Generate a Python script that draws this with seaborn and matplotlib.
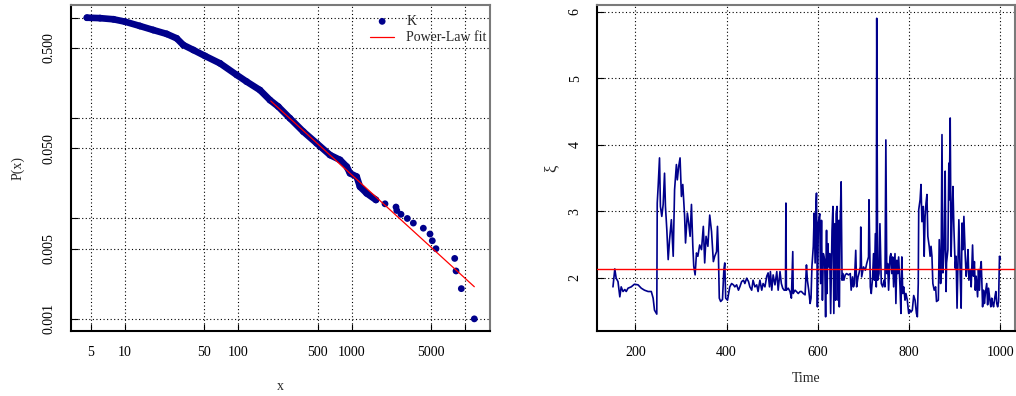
import matplotlib
matplotlib.use("Agg")
import matplotlib.pyplot as plt
from matplotlib.ticker import NullLocator, FixedLocator, FixedFormatter
import seaborn as sns
import pandas as pd

# ---------------- data: left panel (empirical CCDF of K) ----------------
ccdf_x = [4.6, 6.0, 7.9, 10, 13.5, 17.7, 23.3, 28.5, 32.6, 40, 50.7, 68.8,
          96.6, 118, 155, 190, 225, 285, 374, 491, 643, 789, 904, 966, 1106,
          1183, 1355, 1637, 1967, 2460, 2500, 2723, 3097, 3499, 4287, 4910,
          5143, 5543, 8110, 8334, 9280, 12080]
ccdf_p = [1.0, 0.99, 0.964, 0.912, 0.827, 0.754, 0.689, 0.623, 0.535, 0.477,
          0.416, 0.351, 0.269, 0.231, 0.19, 0.151, 0.13, 0.0995, 0.0733,
          0.0561, 0.0429, 0.0383, 0.0328, 0.0282, 0.0261, 0.0207, 0.0178,
          0.0153, 0.014, 0.013, 0.012, 0.011, 0.010, 0.009, 0.008, 0.007,
          0.006, 0.005, 0.004, 0.003, 0.002, 0.001]
n_dense = 28  # points forming the dense band of the CCDF

fit_x = [193, 12080]
fit_p = [0.148, 0.00209]

x_ticks = [5, 10, 50, 100, 500, 1000, 5000, 10000]
x_tick_labels = ["5", "10", "50", "100", "500", "1000", "5000", ""]
p_ticks = [0.001, 0.005, 0.01, 0.05, 0.1, 0.5, 1]
p_tick_labels = ["0.001", "0.005", "", "0.050", "", "0.500", ""]

# ---------------- data: right panel (xi over time) ----------------
time = [151, 155, 158, 162, 166, 169, 173, 177, 180, 184, 191, 198, 206, 213,
        220, 228, 235, 239, 242, 247, 248, 250, 253, 255, 258, 261, 264, 266,
        269, 272, 275, 279, 283, 286, 290, 292, 295, 298, 301, 304, 308, 310,
        314, 317, 320, 323, 326, 328, 331, 334, 337, 341, 345, 349, 352, 355,
        359, 363, 367, 371, 374, 378, 380, 382, 384, 387, 391, 394, 396, 398,
        402, 407, 411, 415, 418, 422, 426, 429, 433, 437, 440, 444, 448, 451,
        455, 458, 462, 466, 469, 473, 477, 480, 484, 488, 491, 494, 496, 499,
        502, 506, 510, 513, 517, 520, 523, 526, 529, 530, 531, 535, 539, 542,
        545, 546, 550, 553, 557, 561, 564, 568, 572, 575, 577, 580, 583, 585,
        587, 590, 592, 594, 596, 597, 599, 601, 604, 606, 608, 610, 612, 615,
        617, 619, 620, 622, 624, 626, 628, 631, 633, 635, 637, 639, 640, 642,
        644, 646, 647, 649, 651, 653, 655, 657, 660, 663, 667, 671, 673, 676,
        678, 680, 683, 685, 688, 690, 693, 694, 696, 700, 704, 707, 711, 712,
        715, 717, 720, 722, 724, 726, 728, 729, 731, 734, 736, 739, 742, 745,
        747, 749, 751, 753, 755, 758, 760, 762, 764, 766, 769, 771, 773, 775,
        777, 780, 782, 784, 786, 788, 791, 793, 796, 799, 802, 804, 807, 810,
        813, 816, 818, 820, 821, 824, 826, 828, 831, 833, 835, 837, 839, 841,
        844, 846, 848, 850, 852, 855, 858, 860, 864, 866, 869, 870, 872, 874,
        877, 879, 881, 882, 885, 887, 888, 890, 892, 894, 896, 898, 901, 903,
        905, 907, 909, 912, 914, 916, 918, 920, 923, 925, 927, 929, 931, 934,
        936, 939, 941, 943, 945, 947, 950, 952, 954, 956, 958, 961, 963, 965,
        967, 970, 972, 974, 977, 979, 981, 983, 985, 988, 990, 992, 994, 996,
        998, 1000]
xi = [1.86, 2.13, 1.99, 1.94, 1.71, 1.86, 1.79, 1.82, 1.79, 1.84, 1.86, 1.90,
      1.89, 1.84, 1.81, 1.79, 1.79, 1.69, 1.51, 1.45, 3.12, 3.37, 3.80, 3.07,
      2.92, 3.10, 3.57, 3.07, 2.72, 2.27, 2.57, 2.87, 2.32, 3.32, 3.70, 3.47,
      3.67, 3.80, 3.22, 3.40, 2.92, 2.52, 2.97, 2.82, 2.62, 3.10, 2.47, 2.17,
      2.04, 2.37, 2.32, 2.49, 2.42, 2.77, 2.22, 2.62, 2.47, 2.94, 2.69, 2.24,
      2.32, 2.39, 2.77, 2.37, 1.69, 1.64, 1.67, 2.12, 2.22, 1.69, 1.66, 1.86,
      1.91, 1.89, 1.86, 1.89, 1.81, 1.86, 1.94, 1.96, 1.91, 1.99, 1.94, 1.86,
      1.81, 1.96, 1.86, 1.89, 1.79, 1.96, 1.81, 1.91, 1.86, 2.02, 2.07, 1.86,
      2.09, 1.81, 2.04, 1.89, 2.09, 1.81, 2.09, 1.91, 1.84, 1.81, 1.81, 3.12,
      1.81, 1.84, 1.79, 1.69, 2.39, 1.76, 1.81, 1.79, 1.76, 1.79, 1.79, 1.76,
      1.74, 2.19, 1.96, 1.81, 1.61, 1.69, 2.17, 2.47, 2.97, 2.22, 3.12, 3.27,
      1.56, 2.82, 2.96, 1.91, 2.86, 1.66, 2.36, 2.26, 1.41, 2.71, 1.76, 2.51,
      2.16, 2.36, 1.46, 2.71, 3.07, 1.46, 2.81, 1.66, 2.96, 3.07, 1.66, 2.86,
      1.56, 2.86, 3.44, 1.96, 2.06, 1.96, 2.04, 2.06, 2.04, 2.06, 1.81, 2.01,
      1.86, 1.91, 2.41, 1.86, 2.01, 2.06, 2.16, 2.76, 2.01, 2.16, 2.11, 2.21,
      2.31, 3.17, 1.86, 1.76, 2.01, 2.36, 1.96, 2.66, 1.86, 5.90, 1.96, 2.06,
      2.81, 1.91, 1.86, 1.96, 1.86, 4.07, 2.06, 2.21, 1.81, 2.31, 2.36, 2.06,
      2.31, 1.86, 2.36, 1.61, 2.26, 2.06, 2.31, 1.86, 1.46, 2.31, 1.76, 1.86,
      1.66, 1.76, 1.66, 1.46, 1.51, 1.48, 1.51, 1.73, 1.66, 1.46, 1.41, 1.91,
      3.02, 3.17, 3.40, 2.84, 3.07, 2.32, 2.92, 3.12, 3.25, 2.62, 2.47, 2.32,
      2.47, 2.32, 1.91, 1.81, 1.86, 1.64, 1.66, 2.57, 1.91, 2.02, 4.15, 2.07,
      2.47, 3.60, 1.79, 2.22, 2.42, 3.72, 3.17, 4.40, 2.32, 2.92, 3.37, 2.77,
      2.14, 2.32, 1.54, 2.22, 2.87, 2.02, 1.54, 2.82, 2.42, 2.92, 2.32, 2.02,
      2.17, 2.42, 1.96, 2.12, 1.86, 2.49, 2.02, 2.24, 1.81, 2.02, 1.71, 2.12,
      1.81, 2.12, 2.24, 1.56, 1.81, 1.61, 1.76, 1.91, 1.59, 1.84, 1.66, 1.56,
      1.69, 1.61, 1.56, 1.71, 1.79, 1.61, 1.56, 1.64, 2.32, 2.28]
xi_fit = 2.135

time_ticks = [200, 400, 600, 800, 1000]
xi_ticks = [2, 3, 4, 5, 6]

# ---------------- style ----------------
sns.set_theme(style="ticks")
plt.rcParams["font.family"] = ["Liberation Serif", "DejaVu Serif"]
plt.rcParams["font.size"] = 10

NAVY = "#00008B"
RED = "#FF0000"
W, H = 1016, 396

fig = plt.figure(figsize=(W / 100, H / 100), dpi=100)
fig.patch.set_facecolor("white")
ax1 = fig.add_axes([71 / W, 1 - 331 / H, (490 - 71) / W, (331 - 5) / H])
ax2 = fig.add_axes([597 / W, 1 - 331 / H, (1015 - 597) / W, (331 - 5) / H])


def style_axes(ax):
    ax.set_facecolor("white")
    for side in ("left", "bottom"):
        ax.spines[side].set_color("black")
        ax.spines[side].set_linewidth(1.5)
    for side in ("top", "right"):
        ax.spines[side].set_visible(True)
        ax.spines[side].set_color("#7a7a7a")
        ax.spines[side].set_linewidth(1.5)
    ax.tick_params(direction="in", length=5, width=0.8, color="black",
                   labelsize=10, pad=11, labelcolor="black")
    ax.grid(True, which="major", color="black", linestyle=(0, (1, 2.2)),
            linewidth=0.8)
    ax.set_axisbelow(True)


# ---------------- left panel ----------------
ax1.set_xscale("log")
ax1.set_yscale("log")
df_ccdf = pd.DataFrame({"x": ccdf_x, "P": ccdf_p})
df_band = df_ccdf.iloc[:n_dense]
df_fit = pd.DataFrame({"x": fit_x, "P": fit_p})

sns.lineplot(data=df_band, x="x", y="P", ax=ax1, color=NAVY, linewidth=4.8,
             sort=False, estimator=None, legend=False,
             solid_capstyle="round", solid_joinstyle="round")
sns.scatterplot(data=df_ccdf, x="x", y="P", ax=ax1, color=NAVY, s=24,
                edgecolor="none", linewidth=0, label="K", zorder=3)
sns.lineplot(data=df_fit, x="x", y="P", ax=ax1, color=RED, linewidth=0.9,
             sort=False, estimator=None, label="Power-Law fit", zorder=4)

ax1.set_xlim(3.33, 16617)
ax1.set_ylim(0.000757, 1.338)
ax1.xaxis.set_major_locator(FixedLocator(x_ticks))
ax1.xaxis.set_major_formatter(FixedFormatter(x_tick_labels))
ax1.xaxis.set_minor_locator(NullLocator())
ax1.yaxis.set_major_locator(FixedLocator(p_ticks))
ax1.yaxis.set_major_formatter(FixedFormatter(p_tick_labels))
ax1.yaxis.set_minor_locator(NullLocator())
style_axes(ax1)
for lab in ax1.get_yticklabels():
    lab.set_rotation(90)
    lab.set_va("center")

ax1.set_xlabel("x", fontsize=10)
ax1.set_ylabel("P(x)", fontsize=10)
ax1.xaxis.set_label_coords(0.5, (331 - 386) / 326)
ax1.xaxis.label.set_va("center")
ax1.yaxis.set_label_coords((18 - 71) / 419, 0.5)
ax1.yaxis.label.set_va("center")

handles, labels = ax1.get_legend_handles_labels()
leg = ax1.legend(handles, labels, loc="upper left",
                 bbox_to_anchor=((370 - 71) / 419, (331 - 15) / 326),
                 frameon=False, fontsize=10, borderpad=0, borderaxespad=0,
                 handlelength=1.75, handletextpad=0.85, labelspacing=0.25,
                 markerscale=1.0)

# ---------------- right panel ----------------
df_xi = pd.DataFrame({"Time": time, "xi": xi})
sns.lineplot(data=df_xi, x="Time", y="xi", ax=ax2, color=NAVY, linewidth=1.2,
             estimator=None, sort=False, legend=False)
ax2.axhline(xi_fit, color=RED, linewidth=1.0, zorder=4)
ax2.set_xlim(116, 1032)
ax2.set_ylim(1.196, 6.10)
ax2.xaxis.set_major_locator(FixedLocator(time_ticks))
ax2.xaxis.set_major_formatter(FixedFormatter([str(t) for t in time_ticks]))
ax2.yaxis.set_major_locator(FixedLocator(xi_ticks))
ax2.yaxis.set_major_formatter(FixedFormatter([str(v) for v in xi_ticks]))
style_axes(ax2)
for lab in ax2.get_yticklabels():
    lab.set_rotation(90)
    lab.set_va("center")

ax2.set_xlabel("Time", fontsize=10)
ax2.set_ylabel("ξ", fontsize=12)
ax2.xaxis.set_label_coords(0.5, (331 - 378) / 326)
ax2.xaxis.label.set_va("center")
ax2.yaxis.set_label_coords((552 - 597) / 418, 0.5)
ax2.yaxis.label.set_va("center")

fig.savefig("out.png", dpi=100, facecolor="white")
